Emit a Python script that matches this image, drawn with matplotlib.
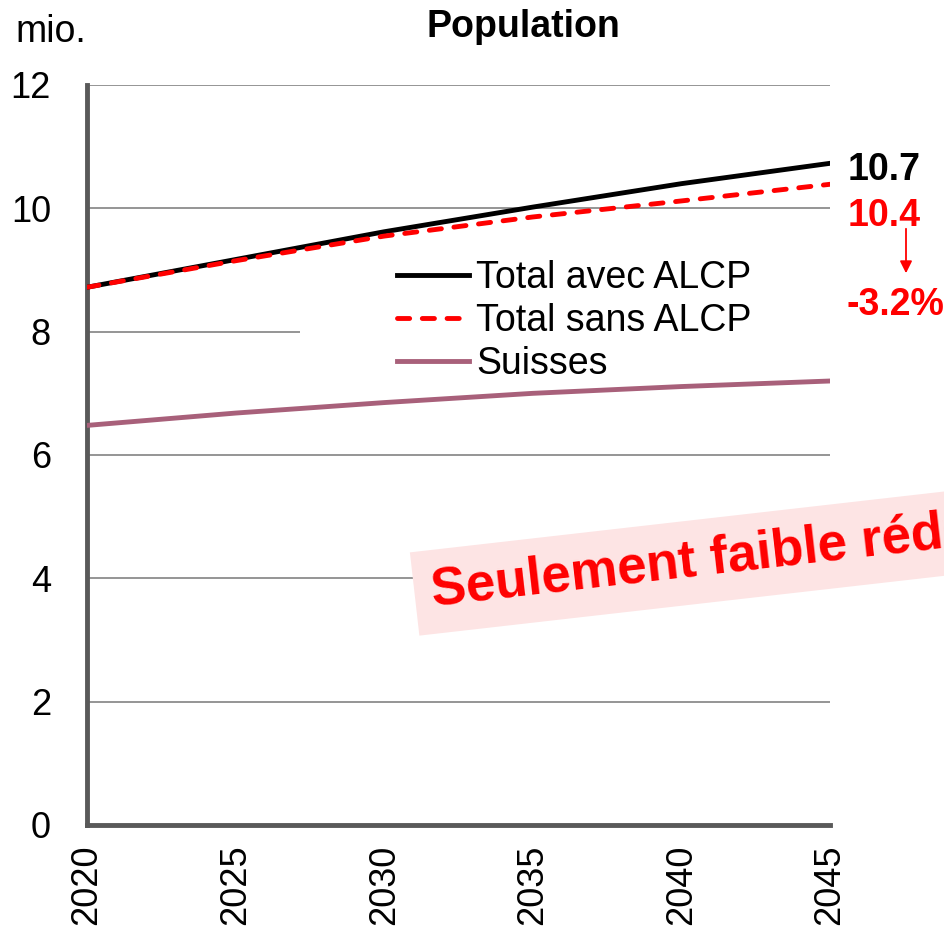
import matplotlib.pyplot as plt
from matplotlib.patches import Rectangle

plt.rcParams['font.family'] = ['Liberation Sans', 'DejaVu Sans']

years = [2020, 2025, 2030, 2035, 2040, 2045]
total_avec = [8.72, 9.17, 9.62, 10.02, 10.40, 10.73]
total_sans = [8.72, 9.15, 9.55, 9.86, 10.12, 10.39]
suisses = [6.48, 6.68, 6.85, 7.00, 7.11, 7.20]
yticks = [0, 2, 4, 6, 8, 10, 12]

W, H = 944, 931
fig = plt.figure(figsize=(W / 100, H / 100), dpi=100)
ax = fig.add_axes([87 / W, 1 - 825 / H, (830 - 87) / W, (825 - 85) / H])

ax.set_xlim(2020, 2045)
ax.set_ylim(0, 12)
ax.set_yticks(yticks)
ax.set_xticks(years)
ax.set_xticklabels([str(y) for y in years], rotation=90)
ax.tick_params(length=0, labelsize=26, pad=14)
ax.tick_params(axis='y', pad=26)
ax.set_axisbelow(True)
ax.grid(axis='y', color='#8c8c8c', linewidth=1.3)
ax.grid(axis='x', visible=False)
for s in ['top', 'right']:
    ax.spines[s].set_visible(False)
for s in ['left', 'bottom']:
    ax.spines[s].set_color('#595959')
    ax.spines[s].set_linewidth(3.5)

# white background behind the legend hides part of the grid
ax.add_patch(Rectangle((300 / W, 1 - 378 / H), (830 - 300) / W, 120 / H,
                       transform=fig.transFigure, facecolor='white',
                       edgecolor='none', zorder=1))

ax.plot(years, suisses, color='#a8607a', linewidth=3.5, label='Suisses', zorder=3)
ax.plot(years, total_avec, color='black', linewidth=3.5, label='Total avec ALCP', zorder=4)
ax.plot(years, total_sans, color='#ff0000', linewidth=3.5, linestyle=(0, (2.5, 2.6)),
        dash_capstyle='round', label='Total sans ALCP', zorder=5)

h, l = ax.get_legend_handles_labels()
order = [1, 2, 0]
ax.legend([h[i] for i in order], [l[i] for i in order], loc='upper left',
          bbox_to_anchor=(397 / W, 1 - 260 / H), bbox_transform=fig.transFigure,
          frameon=False, fontsize=27, borderpad=0, borderaxespad=0,
          handlelength=1.92, handletextpad=0.2, labelspacing=0.19)

fig.text(523 / W, 1 - 27 / H, 'Population', fontsize=27, fontweight='bold',
         ha='center', va='center')
fig.text(15 / W, 1 - 32 / H, 'mio.', fontsize=27, ha='left', va='center')

fig.text(848 / W, 1 - 170 / H, '10.7', fontsize=27, fontweight='bold',
         color='black', ha='left', va='center')
fig.text(848 / W, 1 - 216 / H, '10.4', fontsize=27, fontweight='bold',
         color='#ff0000', ha='left', va='center')
fig.text(846 / W, 1 - 305 / H, '-3.2%', fontsize=27, fontweight='bold',
         color='#ff0000', ha='left', va='center')
ax.annotate('', xy=(906 / W, 1 - 276 / H), xytext=(906 / W, 1 - 226 / H),
            xycoords='figure fraction', textcoords='figure fraction',
            arrowprops=dict(arrowstyle='-|>', color='#ff0000', lw=1.3,
                            mutation_scale=18))

fig.text(433 / W, 1 - 606 / H, 'Seulement faible réduction', fontsize=38,
         fontweight='bold', color='#ff0000', rotation=6.5, rotation_mode='anchor',
         ha='left', va='baseline',
         bbox=dict(facecolor='#fde4e4', edgecolor='none', pad=12))

fig.savefig('out.png', dpi=100)
